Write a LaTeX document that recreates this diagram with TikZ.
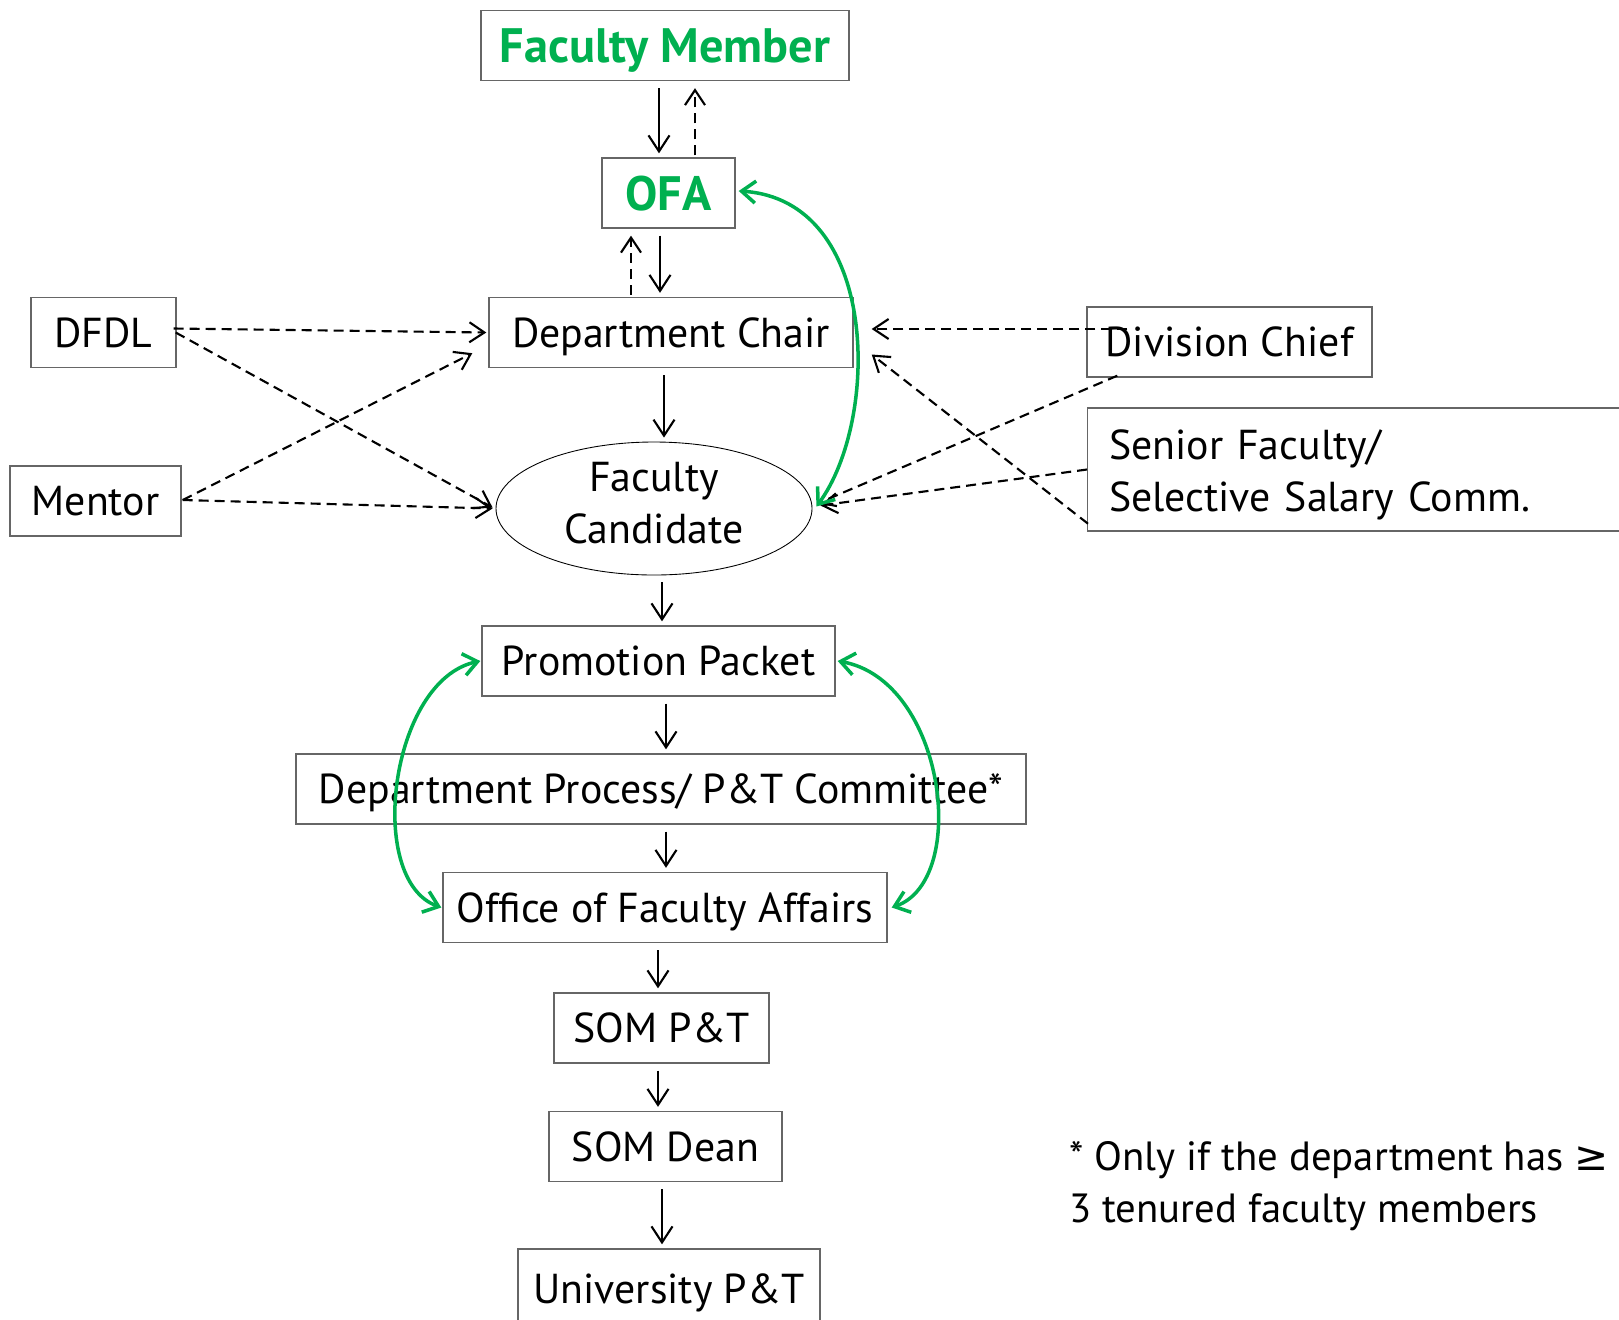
\documentclass[tikz,border=0pt]{standalone}
\usepackage{fontspec}
\setmainfont{PT Sans}
\newfontfamily\symfont{DejaVu Sans}
\usetikzlibrary{arrows.meta,calc,shapes.geometric}
\definecolor{ofagreen}{HTML}{00B050}
\newcommand\bigsize{\fontsize{23.8}{29.5}\selectfont}
\newcommand\headsize{\fontsize{27.5}{32}\selectfont}
\tikzset{
box/.style={draw=black!60, line width=0.8pt, minimum height=14mm, inner sep=0pt, text depth=0pt, font=\bigsize},
head/.style={text=ofagreen, font=\headsize\bfseries},
flow/.style={line width=1.2pt, -{Straight Barb[length=3.2mm,width=4.2mm]}, shorten <=1.4mm, shorten >=0.8mm},
side/.style={line width=1.2pt, dash pattern=on 2mm off 1.2mm, -{Straight Barb[length=3mm,width=4mm]}},
greenloop/.style={draw=ofagreen, line width=2pt, {Straight Barb[length=2.8mm,width=4.4mm]}-{Straight Barb[length=2.8mm,width=4.4mm]}},
}
\begin{document}
\begin{tikzpicture}[x=0.2mm,y=-0.2mm]
\useasboundingbox (0,0) rectangle (1619,1319);
\node[box,head,minimum width=73.6mm] (fm) at (665,45.5) {Faculty Member};
\node[box,head,minimum width=26.6mm] (ofa) at (668.5,193) {OFA};
\node[box,minimum width=72.8mm] (chair) at (671,332.5) {Department Chair};
\node[box,minimum width=29mm] (dfdl) at (103.5,332.5) {DFDL};
\node[box,minimum width=34.2mm] (mentor) at (95.5,501) {Mentor};
\node[draw,ellipse,line width=0.5pt,minimum width=63.2mm,minimum height=26.6mm,inner sep=0pt,text depth=6pt,align=center,font=\bigsize] (cand) at (654,508.5) {Faculty\\Candidate};
\node[box,minimum width=57mm] (chief) at (1229.5,342) {Division Chief};
\node[box,anchor=west,minimum width=110.6mm,minimum height=24.6mm,text width=102mm,text depth=28.3pt,align=left,inner xsep=4mm] (senior) at (1087,469.5) {Senior Faculty/\\Selective Salary Comm.};
\node[box,minimum width=70.6mm] (pp) at (658.5,661) {Promotion Packet};
\node[box,minimum width=146mm] (dp) at (661,789) {Department Process/ P\&T Committee*};
\node[box,minimum width=88.8mm] (ofa2) at (665,907.5) {Office of Faculty Affairs};
\node[box,minimum width=43mm] (somp) at (661.5,1028) {SOM P\&T};
\node[box,minimum width=46.6mm] (dean) at (665.5,1146.5) {SOM Dean};
\node[box,minimum width=60.4mm,minimum height=16mm] (univ) at (669,1289) {University P\&T};
\node[anchor=west,align=left,inner sep=0pt,font=\fontsize{23.2}{29.5}\selectfont] (note) at (1069,1186) {* Only if the department has {\symfont ≥}\\3 tenured faculty members};

\foreach \a/\b/\x in {fm/ofa/659, ofa/chair/660, chair/cand/664, cand/pp/662, pp/dp/666, dp/ofa2/666, ofa2/somp/658, somp/dean/658, dean/univ/662}
\draw[flow] (\x,0 |- \a.south) -- (\x,0 |- \b.north);
\foreach \a/\b/\x in {chair/ofa/631, ofa/fm/695}
\draw[side,shorten <=0.4mm,shorten >=1.4mm] (\x,0 |- \a.north) -- (\x,0 |- \b.south);

\draw[side] ($(dfdl.east)+(-3,-4)$) -- ($(chair.west)+(-2,0)$);
\draw[side] ($(dfdl.east)+(-1,0)$) -- ($(cand.west)+(-3,-1)$);
\draw[side] ($(mentor.east)+(1,-1)$) -- ($(chair.south west)+(-16,-15)$);
\draw[side] ($(mentor.east)+(1,-1)$) -- ($(cand.west)+(-3,0)$);
\draw[side] ($(chief.west)+(41,-13)$) -- ($(chair.east)+(18,-3.5)$);
\draw[side] ($(chief.south west)+(31,-2)$) -- ($(cand.east)+(5,-5)$);
\draw[side] (senior.west) -- ($(cand.east)+(8,-3)$);
\draw[side] ($(senior.south west)+(1,-8)$) -- ($(chair.east)+(18,22)$);

\draw[greenloop] ($(ofa.east)+(3,-2)$) .. controls (880,200) and (880,420) .. ($(cand.east)+(4,-2)$);
\draw[greenloop] ($(pp.west)+(-1,0)$) .. controls (390,680) and (365,880) .. ($(ofa2.west)+(-1,0)$);
\draw[greenloop] ($(pp.east)+(2,0)$) .. controls (945,680) and (970,880) .. ($(ofa2.east)+(4,0)$);
\end{tikzpicture}
\end{document}
